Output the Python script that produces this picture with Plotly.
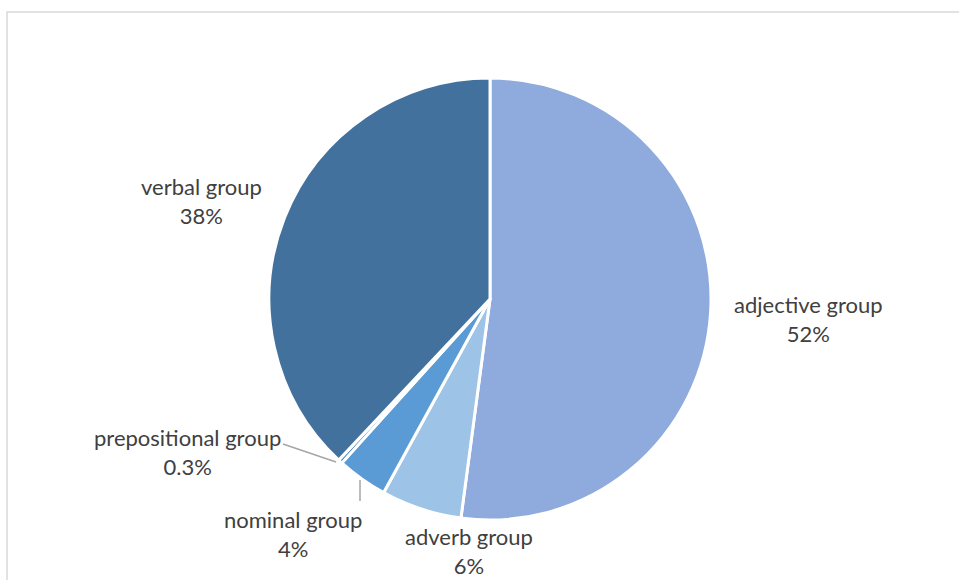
import plotly.graph_objects as go

categories = ["adjective group", "adverb group", "nominal group", "prepositional group", "verbal group"]
values = [52.1, 5.9, 3.7, 0.3, 38.0]
colors = ["#8FAADC", "#9DC3E6", "#5B9BD5", "#2E75B6", "#41719C"]

W, H = 959, 580

def pct_text(v, total):
    p = v / total * 100
    return f"{p:.1f}%" if p < 1 else f"{round(p):.0f}%"

total = sum(values)
texts = [pct_text(v, total) for v in values]

cx, cy, r = 490, 299, 221

fig = go.Figure(go.Pie(
    labels=categories, values=values, sort=False, direction="clockwise", rotation=0,
    marker=dict(colors=colors, line=dict(color="white", width=3)),
    textinfo="none", hoverinfo="label+percent", showlegend=False,
    domain=dict(x=[(cx - r) / W, (cx + r) / W], y=[(H - (cy + r)) / H, (H - (cy - r)) / H]),
))

# label centre positions (pixels) - layout only
label_pos = [(808, 319), (469, 551), (293, 534), (187, 452), (201, 201)]
annotations = []
for cat, t, (x, y) in zip(categories, texts, label_pos):
    annotations.append(dict(
        x=x / W, y=1 - y / H, xref="paper", yref="paper", showarrow=False,
        text=f"{cat}<br>{t}", align="center", xanchor="center", yanchor="middle",
        font=dict(family="Lato, Open Sans, sans-serif", size=22, color="#404040"),
    ))

shapes = [
    dict(type="rect", xref="paper", yref="paper", x0=7 / W, x1=1.02, y0=-0.02, y1=1 - 12 / H,
         line=dict(color="#D9D9D9", width=1.5), fillcolor="rgba(0,0,0,0)", layer="below"),
    dict(type="path", xref="paper", yref="paper",
         path=f"M {283 / W} {1 - 444 / H} L {336 / W} {1 - 462 / H}",
         line=dict(color="#A6A6A6", width=1.5)),
    dict(type="line", xref="paper", yref="paper",
         x0=360 / W, x1=360 / W, y0=1 - 480 / H, y1=1 - 501 / H,
         line=dict(color="#A6A6A6", width=1.5)),
]

fig.update_layout(
    width=W, height=H, margin=dict(l=0, r=0, t=0, b=0),
    paper_bgcolor="white", plot_bgcolor="white",
    annotations=annotations, shapes=shapes,
)

fig.write_html("out.html", config={"displayModeBar": False},
               post_script="document.body.style.margin='0';document.body.style.overflow='hidden';")
